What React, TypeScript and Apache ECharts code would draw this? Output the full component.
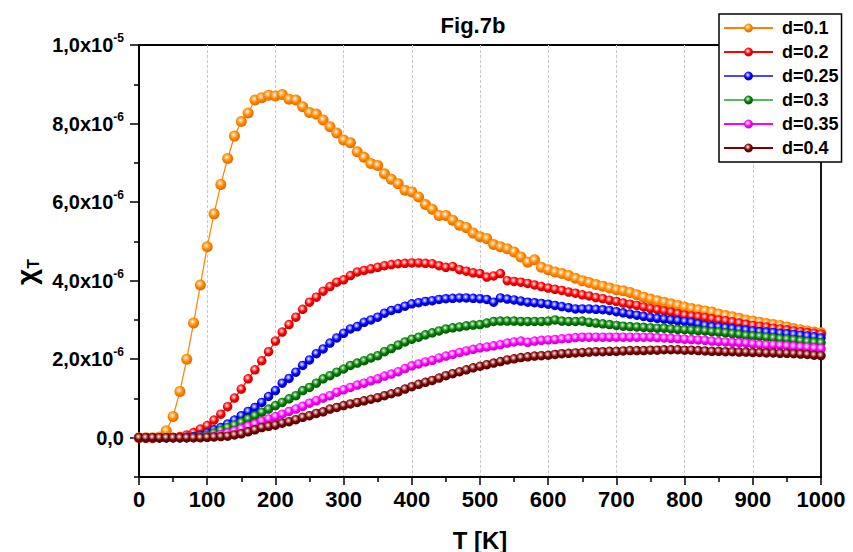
import React, { useEffect, useRef } from "react";
import * as echarts from "echarts";

const temperatures = [
  0, 10, 20, 30, 40, 50, 60, 70, 80, 90,
  100, 110, 120, 130, 140, 150, 160, 170, 180, 190,
  200, 210, 220, 230, 240, 250, 260, 270, 280, 290,
  300, 310, 320, 330, 340, 350, 360, 370, 380, 390,
  400, 410, 420, 430, 440, 450, 460, 470, 480, 490,
  500, 510, 520, 530, 540, 550, 560, 570, 580, 590,
  600, 610, 620, 630, 640, 650, 660, 670, 680, 690,
  700, 710, 720, 730, 740, 750, 760, 770, 780, 790,
  800, 810, 820, 830, 840, 850, 860, 870, 880, 890,
  900, 910, 920, 930, 940, 950, 960, 970, 980, 990,
  1000,
];

// values in units of 1e-6
const d01 = [
  0, 0, 0, 0.02, 0.18, 0.54, 1.18, 2.0, 2.92, 3.89,
  4.86, 5.7, 6.45, 7.11, 7.68, 8.05, 8.27, 8.6, 8.66, 8.72,
  8.7, 8.74, 8.62, 8.6, 8.43, 8.28, 8.24, 8.09, 7.92, 7.76,
  7.58, 7.51, 7.28, 7.14, 6.98, 6.93, 6.72, 6.58, 6.47, 6.3,
  6.26, 6.13, 5.94, 5.82, 5.66, 5.66, 5.54, 5.41, 5.35, 5.21,
  5.12, 5.07, 4.92, 4.86, 4.81, 4.73, 4.6, 4.47, 4.53, 4.34,
  4.28, 4.22, 4.18, 4.13, 4.06, 4.0, 3.95, 3.9, 3.86, 3.81,
  3.77, 3.74, 3.7, 3.64, 3.58, 3.53, 3.49, 3.45, 3.41, 3.37,
  3.33, 3.29, 3.26, 3.23, 3.2, 3.15, 3.11, 3.08, 3.04, 3.0,
  2.97, 2.94, 2.91, 2.88, 2.86, 2.82, 2.78, 2.75, 2.72, 2.69,
  2.67,
];
const d02 = [
  0, 0, 0, 0, 0, 0.01, 0.03, 0.07, 0.13, 0.22,
  0.31, 0.45, 0.6, 0.79, 1.01, 1.24, 1.5, 1.73, 1.96, 2.19,
  2.46, 2.69, 2.88, 3.07, 3.27, 3.45, 3.58, 3.73, 3.85, 3.96,
  4.02, 4.13, 4.22, 4.26, 4.3, 4.34, 4.38, 4.41, 4.43, 4.44,
  4.45, 4.45, 4.44, 4.43, 4.38, 4.34, 4.36, 4.28, 4.24, 4.2,
  4.18, 4.09, 4.12, 4.18, 4.0, 3.98, 3.96, 3.93, 3.89, 3.85,
  3.81, 3.78, 3.75, 3.71, 3.68, 3.64, 3.61, 3.57, 3.54, 3.5,
  3.47, 3.43, 3.4, 3.37, 3.33, 3.29, 3.26, 3.23, 3.2, 3.16,
  3.12, 3.1, 3.08, 3.06, 3.03, 3.0, 2.98, 2.95, 2.92, 2.89,
  2.86, 2.84, 2.82, 2.79, 2.77, 2.75, 2.72, 2.7, 2.68, 2.66,
  2.64,
];
const d025 = [
  0, 0, 0, 0, 0, 0, 0, 0.01, 0.03, 0.06,
  0.12, 0.2, 0.26, 0.35, 0.45, 0.56, 0.67, 0.77, 0.9, 1.05,
  1.2, 1.39, 1.51, 1.67, 1.84, 1.98, 2.14, 2.26, 2.41, 2.54,
  2.66, 2.77, 2.83, 2.94, 3.0, 3.07, 3.17, 3.24, 3.29, 3.35,
  3.41, 3.44, 3.47, 3.49, 3.52, 3.54, 3.55, 3.56, 3.56, 3.55,
  3.54, 3.52, 3.45, 3.56, 3.53, 3.51, 3.48, 3.45, 3.44, 3.42,
  3.4, 3.37, 3.34, 3.31, 3.28, 3.28, 3.28, 3.27, 3.26, 3.24,
  3.21, 3.18, 3.15, 3.12, 3.09, 3.06, 3.04, 3.02, 3.0, 2.98,
  2.96, 2.94, 2.9, 2.86, 2.83, 2.82, 2.8, 2.78, 2.76, 2.74,
  2.72, 2.7, 2.69, 2.68, 2.66, 2.65, 2.63, 2.61, 2.59, 2.57,
  2.54,
];
const d03 = [
  0, 0, 0, 0, 0, 0, 0, 0, 0.01, 0.02,
  0.06, 0.12, 0.19, 0.26, 0.32, 0.39, 0.48, 0.56, 0.65, 0.73,
  0.82, 0.9, 0.99, 1.07, 1.2, 1.28, 1.39, 1.5, 1.58, 1.67,
  1.75, 1.84, 1.9, 1.96, 2.03, 2.09, 2.19, 2.27, 2.36, 2.44,
  2.51, 2.56, 2.62, 2.67, 2.72, 2.77, 2.8, 2.82, 2.85, 2.87,
  2.88, 2.92, 2.96, 2.97, 2.97, 2.97, 2.96, 2.96, 2.96, 2.96,
  2.97, 3.0, 2.97, 2.96, 2.96, 2.97, 2.94, 2.92, 2.9, 2.88,
  2.86, 2.84, 2.83, 2.82, 2.81, 2.8, 2.79, 2.79, 2.77, 2.76,
  2.75, 2.74, 2.73, 2.72, 2.7, 2.69, 2.67, 2.65, 2.63, 2.6,
  2.59, 2.58, 2.56, 2.54, 2.52, 2.51, 2.49, 2.47, 2.45, 2.43,
  2.42,
];
const d035 = [
  0, 0, 0, 0, 0, 0, 0, 0, 0, 0.01,
  0.02, 0.04, 0.08, 0.12, 0.17, 0.23, 0.29, 0.35, 0.42, 0.48,
  0.54, 0.6, 0.67, 0.73, 0.8, 0.88, 0.94, 1.01, 1.07, 1.16,
  1.22, 1.28, 1.34, 1.39, 1.45, 1.5, 1.57, 1.62, 1.68, 1.76,
  1.83, 1.88, 1.93, 1.97, 2.03, 2.08, 2.12, 2.17, 2.21, 2.25,
  2.29, 2.31, 2.34, 2.37, 2.41, 2.44, 2.46, 2.43, 2.46, 2.48,
  2.49, 2.5, 2.52, 2.53, 2.55, 2.56, 2.56, 2.56, 2.56, 2.56,
  2.56, 2.56, 2.56, 2.56, 2.56, 2.56, 2.55, 2.54, 2.53, 2.52,
  2.51, 2.5, 2.49, 2.48, 2.46, 2.45, 2.44, 2.43, 2.42, 2.41,
  2.39, 2.37, 2.36, 2.36, 2.35, 2.34, 2.32, 2.31, 2.3, 2.28,
  2.27,
];
const d04 = [
  0, 0, 0, 0, 0, 0, 0, 0, 0, 0,
  0.01, 0.02, 0.03, 0.04, 0.07, 0.1, 0.15, 0.2, 0.26, 0.29,
  0.32, 0.37, 0.41, 0.46, 0.52, 0.56, 0.62, 0.66, 0.73, 0.77,
  0.82, 0.86, 0.9, 0.94, 0.98, 1.02, 1.07, 1.12, 1.17, 1.24,
  1.3, 1.36, 1.41, 1.46, 1.52, 1.58, 1.63, 1.68, 1.73, 1.78,
  1.82, 1.86, 1.9, 1.94, 1.98, 2.01, 2.04, 2.06, 2.08, 2.09,
  2.1, 2.12, 2.14, 2.15, 2.16, 2.17, 2.18, 2.19, 2.19, 2.2,
  2.2, 2.21, 2.22, 2.22, 2.22, 2.23, 2.23, 2.24, 2.24, 2.24,
  2.23, 2.23, 2.22, 2.21, 2.2, 2.2, 2.19, 2.19, 2.18, 2.18,
  2.17, 2.17, 2.16, 2.16, 2.15, 2.15, 2.14, 2.13, 2.12, 2.1,
  2.09,
];

const seriesNames = ["d=0.1", "d=0.2", "d=0.25", "d=0.3", "d=0.35", "d=0.4"];
const seriesValues = [d01, d02, d025, d03, d035, d04];
const yLabelValues = [0, 2, 4, 6, 8, 10];
const yMinorValues = [-1, 1, 3, 5, 7, 9];

const FONT = "'Liberation Sans', Arial, sans-serif";

const palette = [
  { base: "#ff8a00", light: "#ffc680", dark: "#e06800", line: "#ff8000", size: 11 },
  { base: "#ff0000", light: "#ff9090", dark: "#c00000", line: "#ff0000", size: 9.5 },
  { base: "#0000ff", light: "#9090ff", dark: "#0000b0", line: "#4848ff", size: 9.5 },
  { base: "#008000", light: "#80c080", dark: "#005000", line: "#5cb85c", size: 9.5 },
  { base: "#ff00ff", light: "#ffa0ff", dark: "#c000c0", line: "#ff00ff", size: 9.5 },
  { base: "#800000", light: "#c89090", dark: "#500000", line: "#800000", size: 9.5 },
];

function ball(p: any) {
  return new echarts.graphic.RadialGradient(0.42, 0.38, 0.62, [
    { offset: 0, color: "#ffffff" },
    { offset: 0.22, color: p.light },
    { offset: 0.55, color: p.base },
    { offset: 1, color: p.dark },
  ]);
}

function yLabel(v: number) {
  if (v === 0) return "{a|0,0}";
  if (v === 10) return "{a|1,0x10}{s|-5}";
  return `{a|${v},0x10}{s|-6}`;
}

export default function App() {
  const ref = useRef<HTMLDivElement>(null);
  useEffect(() => {
    if (!ref.current) return;
    const chart = echarts.init(ref.current, undefined, { renderer: "svg" });
    const series = seriesNames.map((name, k) => ({
      name,
      type: "line",
      data: temperatures.map((t, i) => [t, seriesValues[k][i]]),
      symbol: "circle",
      symbolSize: palette[k].size,
      showSymbol: true,
      clip: false,
      lineStyle: { color: palette[k].line, width: 1.2 },
      itemStyle: { color: ball(palette[k]), borderWidth: 0 },
      emphasis: { disabled: true },
      z: 2 + k,
    }));
    chart.setOption({
      animation: false,
      backgroundColor: "#fff",
      grid: {
        left: 139,
        right: 32,
        top: 45,
        bottom: 75,
        show: true,
        borderColor: "#000",
        borderWidth: 1.8,
        backgroundColor: "transparent",
      },
      xAxis: {
        type: "value",
        min: 0,
        max: 1000,
        interval: 100,
        axisLine: { show: true, onZero: false, lineStyle: { color: "#000", width: 2 } },
        axisTick: { show: true, length: 8, inside: false, lineStyle: { color: "#000", width: 1.5 } },
        minorTick: { show: true, splitNumber: 2, length: 5, lineStyle: { color: "#000", width: 1.5 } },
        axisLabel: {
          fontFamily: FONT,
          fontWeight: "bold",
          fontSize: 22,
          color: "#000",
          margin: 11,
          formatter: (v: number) => String(v),
        },
        splitLine: {
          show: true,
          showMinLine: false,
          showMaxLine: false,
          lineStyle: { type: [3, 2], color: "#c8c8c8", width: 1 },
        },
      },
      yAxis: [
        {
          type: "value",
          min: -1,
          max: 10,
          interval: 1,
          position: "left",
          axisLine: { show: true, onZero: false, lineStyle: { color: "#000", width: 2 } },
          axisTick: {
            show: true,
            length: 9,
            customValues: yLabelValues,
            lineStyle: { color: "#000", width: 1.5 },
          },
          axisLabel: {
            customValues: yLabelValues,
            formatter: (v: number) => yLabel(v),
            margin: 15,
            rich: {
              a: {
                fontFamily: FONT,
                fontWeight: "bold",
                fontSize: 20,
                color: "#000",
                lineHeight: 26,
              },
              s: {
                fontFamily: FONT,
                fontWeight: "bold",
                fontSize: 12,
                color: "#000",
                lineHeight: 12,
                verticalAlign: "top",
              },
            },
          },
          splitLine: { show: false },
        },
        {
          type: "value",
          min: -1,
          max: 10,
          interval: 1,
          position: "left",
          axisLine: { show: false },
          axisTick: {
            show: true,
            length: 5,
            customValues: yMinorValues,
            lineStyle: { color: "#000", width: 1.5 },
          },
          axisLabel: { show: false },
          splitLine: { show: false },
        },
      ],
      legend: {
        orient: "vertical",
        left: 719,
        top: 14,
        padding: [5, 3, 5, 4],
        itemWidth: 49,
        itemHeight: 11,
        itemGap: 6,
        backgroundColor: "#fff",
        borderColor: "#000",
        borderWidth: 1.5,
        borderRadius: 0,
        textStyle: {
          fontFamily: FONT,
          fontWeight: "bold",
          fontSize: 18,
          color: "#000",
          padding: [0, 0, 0, 4],
        },
        data: seriesNames,
      },
      graphic: [
        {
          type: "text",
          x: 473,
          y: 25,
          style: {
            text: "Fig.7b",
            font: `bold 22px ${FONT}`,
            fill: "#000",
            align: "center",
            verticalAlign: "middle",
          },
        },
        {
          type: "text",
          x: 480,
          y: 540,
          style: {
            text: "T [K]",
            font: `bold 24px ${FONT}`,
            fill: "#000",
            align: "center",
            verticalAlign: "middle",
          },
        },
        {
          type: "text",
          x: 26,
          y: 272,
          rotation: Math.PI / 2,
          style: {
            text: "{c|χ}{t|T}",
            align: "center",
            verticalAlign: "middle",
            rich: {
              c: { font: `bold 28px ${FONT}`, fill: "#000", lineHeight: 30 },
              t: { font: `bold 16px ${FONT}`, fill: "#000", lineHeight: 16, verticalAlign: "bottom" },
            },
          },
        },
      ],
      series,
    });
    return () => chart.dispose();
  }, []);
  return (
    <div
      ref={ref}
      style={{ position: "fixed", left: 0, top: 0, width: 853, height: 552 }}
    />
  );
}
